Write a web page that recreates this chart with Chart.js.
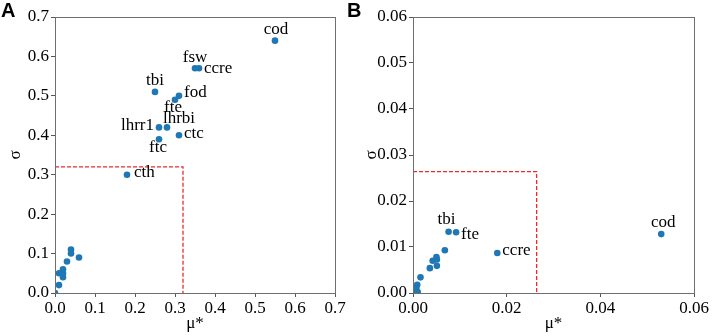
<!DOCTYPE html>
<html>
<head>
<meta charset="utf-8">
<script src="https://cdn.jsdelivr.net/npm/chart.js@4"></script>
<style>
  html, body { margin: 0; padding: 0; background: #fff; }
  #wrap { position: relative; width: 713px; height: 336px; overflow: hidden; }
  canvas { position: absolute; top: 0; }
  .panel { position: absolute; top: 0; font: bold 20px "Liberation Sans", Arial, sans-serif; line-height: 20px; color: #000; }
  .warm { position: absolute; left: -1000px; top: 0; font: 17px "Liberation Serif"; }
</style>
</head>
<body>
<div id="wrap">
  <canvas id="ca" width="356" height="336" style="left:0"></canvas>
  <canvas id="cb" width="357" height="336" style="left:356px"></canvas>
  <div class="panel" style="left:1px">A</div>
  <div class="panel" style="left:347px">B</div>
  <div class="warm">0.1 μ* σ</div>
</div>
<script>
// ---------- Panel A data ----------
const namesA = ['cod','fsw','ccre','tbi','fod','fte','lhrr1','lhrbi','ftc','ctc','cth','','','','','','','','','',''];
const muA    = [0.55, 0.35, 0.36, 0.25, 0.31, 0.30, 0.26, 0.28, 0.26, 0.31, 0.18, 0.00, 0.01, 0.01, 0.02, 0.02, 0.02, 0.03, 0.04, 0.04, 0.06];
const sigmaA = [0.64, 0.57, 0.57, 0.51, 0.50, 0.49, 0.42, 0.42, 0.39, 0.40, 0.30, 0.00, 0.02, 0.05, 0.06, 0.05, 0.04, 0.08, 0.11, 0.10, 0.09];
const thresholdA = 0.32;
const xTicksA = [0, 0.1, 0.2, 0.3, 0.4, 0.5, 0.6, 0.7];
const xTickLabelsA = ['0.0','0.1','0.2','0.3','0.4','0.5','0.6','0.7'];
const yTicksA = [0, 0.1, 0.2, 0.3, 0.4, 0.5, 0.6, 0.7];
const yTickLabelsA = ['0.0','0.1','0.2','0.3','0.4','0.5','0.6','0.7'];

// ---------- Panel B data ----------
const namesB = ['cod','ccre','tbi','fte','','','','','','','','','','','','','','','','',''];
const muB    = [0.0530, 0.0180, 0.0076, 0.0092, 0.0068, 0.0050, 0.0051, 0.0042, 0.0051, 0.0036, 0.0016, 0.0009, 0.0007, 0.0004, 0.0008, 0.0002, 0.0001, 0.0000, 0.0005, 0.0003, 0.0010];
const sigmaB = [0.0128, 0.0087, 0.0133, 0.0132, 0.0093, 0.0078, 0.0073, 0.0070, 0.0059, 0.0054, 0.0034, 0.0018, 0.0012, 0.0007, 0.0004, 0.0003, 0.0001, 0.0000, 0.0002, 0.0009, 0.0002];
const thresholdB = 0.0264;
const xTicksB = [0, 0.02, 0.04, 0.06];
const xTickLabelsB = ['0.00','0.02','0.04','0.06'];
const yTicksB = [0, 0.01, 0.02, 0.03, 0.04, 0.05, 0.06];
const yTickLabelsB = ['0.00','0.01','0.02','0.03','0.04','0.05','0.06'];

const SERIF = '"Liberation Serif", "DejaVu Serif", serif';
const BLUE = '#1f77b4';
const RED = '#ee2a2a';

const frameAndLabels = {
  id: 'frameAndLabels',
  afterDatasetsDraw(chart, args, opts) {
    const ctx = chart.ctx;
    const meta = chart.getDatasetMeta(0);
    const ds = chart.data.datasets[0];
    ctx.save();
    ctx.font = '17px ' + SERIF;
    ctx.fillStyle = '#000';
    ctx.textBaseline = 'middle';
    meta.data.forEach((pt, i) => {
      const name = ds.names[i];
      if (!name) return;
      const o = opts.offsets[name] || [0, -11, 'center'];
      ctx.textAlign = o[2];
      ctx.fillText(name, pt.x + o[0], pt.y + o[1]);
    });
    const a = chart.chartArea;
    ctx.strokeStyle = '#6f6f6f';
    ctx.lineWidth = 1;
    ctx.strokeRect(Math.round(a.left) + 0.5, Math.round(a.top) + 0.5, Math.round(a.right - a.left), Math.round(a.bottom - a.top));
    ctx.restore();
  }
};

function makeChart(id, mu, sigma, names, thr, xT, xL, yT, yL, yWidth, padRight, offsets) {
  const pts = mu.map((m, i) => ({ x: m, y: sigma[i] }));
  const xMax = xT[xT.length - 1], yMax = yT[yT.length - 1];
  return new Chart(document.getElementById(id), {
    type: 'scatter',
    data: {
      datasets: [
        { data: pts, names: names, backgroundColor: BLUE, borderWidth: 0, pointRadius: 3.3, pointHoverRadius: 3.3 },
        { type: 'line', data: [{ x: 0, y: thr }, { x: thr, y: thr }, { x: thr, y: 0 }], borderColor: RED, borderWidth: 1.3, borderDash: [4, 2], pointRadius: 0, fill: false, showLine: true }
      ]
    },
    options: {
      responsive: false,
      animation: false,
      devicePixelRatio: 1,
      layout: { padding: { top: 17, right: padRight, left: 0, bottom: 0 } },
      plugins: { legend: { display: false }, tooltip: { enabled: false }, frameAndLabels: { offsets: offsets } },
      scales: {
        x: {
          type: 'linear', min: 0, max: xMax,
          afterBuildTicks: s => { s.ticks = xT.map(v => ({ value: v })); },
          afterFit: s => { s.height = 43; },
          ticks: { callback: (v, i) => xL[i], font: { family: SERIF, size: 17 }, color: '#000', padding: 1, maxRotation: 0, autoSkip: false },
          grid: { drawOnChartArea: false, drawTicks: true, tickLength: 4, color: '#555' },
          border: { display: false },
          title: { display: true, text: 'μ*', font: { family: SERIF, size: 17 }, color: '#000', padding: { top: 0, bottom: 2 } }
        },
        y: {
          type: 'linear', min: 0, max: yMax,
          afterBuildTicks: s => { s.ticks = yT.map(v => ({ value: v })); },
          afterFit: s => { s.width = yWidth; },
          ticks: { callback: (v, i) => yL[i], font: { family: SERIF, size: 17 }, color: '#000', padding: 2, autoSkip: false },
          grid: { drawOnChartArea: false, drawTicks: true, tickLength: 4, color: '#555' },
          border: { display: false },
          title: { display: true, text: 'σ', font: { family: SERIF, size: 17 }, color: '#000', padding: { top: 5, bottom: 0 } }
        }
      }
    },
    plugins: [frameAndLabels]
  });
}

function build() {
  makeChart('ca', muA, sigmaA, namesA, thresholdA, xTicksA, xTickLabelsA, yTicksA, yTickLabelsA, 55, 21, {
    cod: [1, -11, 'center'], fsw: [0, -11, 'center'], ccre: [5, 0, 'left'], tbi: [0, -11, 'center'],
    fod: [5, -3, 'left'], fte: [-2, 8, 'center'], lhrr1: [-5, -2, 'right'], lhrbi: [12, -9, 'center'],
    ftc: [-1, 8, 'center'], ctc: [5, -2, 'left'], cth: [7, -2, 'left']
  });
  makeChart('cb', muB, sigmaB, namesB, thresholdB, xTicksB, xTickLabelsB, yTicksB, yTickLabelsB, 57, 19, {
    tbi: [-2, -12, 'center'], fte: [5, 2, 'left'], ccre: [5, -2, 'left'], cod: [2, -12, 'center']
  });
}
if (document.fonts && document.fonts.load) {
  document.fonts.load('17px "Liberation Serif"').then(build, build);
} else {
  build();
}
</script>
</body>
</html>
